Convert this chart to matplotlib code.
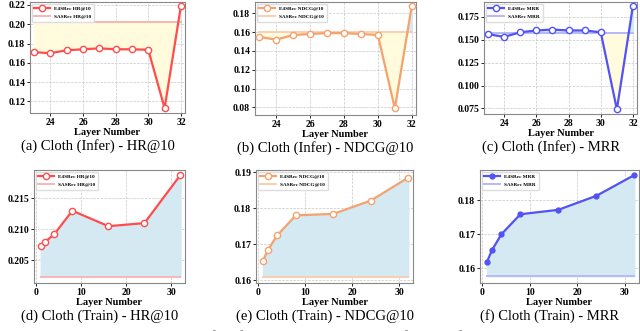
import numpy as np
import matplotlib
matplotlib.use("Agg")
import matplotlib.pyplot as plt

plt.rcParams['font.family'] = ['Liberation Serif', 'DejaVu Serif']

# inference: layer index where the output is taken
infer_layers = [23, 24, 25, 26, 27, 28, 29, 30, 31, 32]
infer_hr = [0.171, 0.170, 0.173, 0.174, 0.175, 0.174, 0.174, 0.1735, 0.113, 0.219]
infer_ndcg = [0.155, 0.152, 0.157, 0.158, 0.159, 0.159, 0.158, 0.157, 0.079, 0.188]
infer_mrr = [0.156, 0.153, 0.158, 0.160, 0.161, 0.160, 0.160, 0.158, 0.074, 0.187]
sas_infer = {'HR@10': 0.2025, 'NDCG@10': 0.160, 'MRR': 0.157}

# training: number of layers
train_layers = [1, 2, 4, 8, 16, 24, 32]
train_hr = [0.2073, 0.2080, 0.2092, 0.2130, 0.2105, 0.2110, 0.2188]
train_ndcg = [0.1654, 0.1683, 0.1724, 0.1780, 0.1784, 0.1821, 0.1885]
train_mrr = [0.1620, 0.1653, 0.1700, 0.1759, 0.1772, 0.1813, 0.1874]
sas_train = {'HR@10': 0.20235, 'NDCG@10': 0.1609, 'MRR': 0.1577}

colors = {'HR@10': '#ff4d4d', 'NDCG@10': '#f4a26e', 'MRR': '#5252f5'}
sas_colors = {'HR@10': '#f7b7b7', 'NDCG@10': '#f8cfb2', 'MRR': '#b8b8f8'}

W, H = 640, 331
fig = plt.figure(figsize=(W / 100, H / 100), dpi=100)


def add_ax(l, r, t, b):
    return fig.add_axes([l / W, 1 - b / H, (r - l) / W, (b - t) / H])


panels = [
    # rect, x, y, metric, ylim, yticks, fmt, xticks, xlim, caption, filled marker
    ((30, 185, 2, 113), infer_layers, infer_hr, 'HR@10', (0.108, 0.223),
     [0.12, 0.14, 0.16, 0.18, 0.20, 0.22], '{:.2f}', [24, 26, 28, 30, 32],
     (22.75, 32.25), '(a) Cloth (Infer) - HR@10', False),
    ((255, 416, 2, 115), infer_layers, infer_ndcg, 'NDCG@10', (0.072, 0.192),
     [0.08, 0.10, 0.12, 0.14, 0.16, 0.18], '{:.2f}', [24, 26, 28, 30, 32],
     (22.75, 32.25), '(b) Cloth (Infer) - NDCG@10', False),
    ((484, 637, 2, 114), infer_layers, infer_mrr, 'MRR', (0.069, 0.191),
     [0.075, 0.100, 0.125, 0.150, 0.175], '{:.3f}', [24, 26, 28, 30, 32],
     (22.75, 32.25), '(c) Cloth (Infer) - MRR', False),
    ((34, 185, 170, 283), train_layers, train_hr, 'HR@10', (0.2013, 0.2196),
     [0.205, 0.210, 0.215], '{:.3f}', [0, 10, 20, 30],
     (-0.5, 33.0), '(d) Cloth (Train) - HR@10', False),
    ((256, 413, 170, 283), train_layers, train_ndcg, 'NDCG@10', (0.1592, 0.1906),
     [0.16, 0.17, 0.18, 0.19], '{:.2f}', [0, 10, 20, 30],
     (-0.5, 33.0), '(e) Cloth (Train) - NDCG@10', False),
    ((480, 639, 170, 283), train_layers, train_mrr, 'MRR', (0.1557, 0.1889),
     [0.16, 0.17, 0.18], '{:.2f}', [0, 10, 20, 30],
     (-0.5, 33.0), '(f) Cloth (Train) - MRR', True),
]

for rect, xs, ys, metric, ylim, yticks, fmt, xticks, xlim, caption, filled in panels:
    ax = add_ax(*rect)
    sas = sas_infer[metric] if 'Infer' in caption else sas_train[metric]
    xs = np.array(xs, dtype=float)
    ys = np.array(ys)
    base = np.full_like(ys, sas)
    # below the baseline -> pale yellow, above -> pale blue
    ax.fill_between(xs, ys, base, where=ys <= base, interpolate=True,
                    color='#fffbdc', zorder=1)
    ax.fill_between(xs, ys, base, where=ys >= base, interpolate=True,
                    color='#d5e9f3', zorder=1)
    c = colors[metric]
    if filled:
        ax.plot(xs, ys, '-o', color=c, lw=1.6, ms=3.5, mfc=c, mec=c,
                label='E4SRec ' + metric, zorder=3)
    else:
        ax.plot(xs, ys, '-o', color=c, lw=1.6, ms=4.5, mfc='white', mec=c,
                mew=1.0, label='E4SRec ' + metric, zorder=3)
    ax.plot([xs[0], xs[-1]], [sas, sas], color=sas_colors[metric], lw=1.4,
            label='SASRec ' + metric, zorder=2)
    ax.set_xlim(*xlim)
    ax.set_ylim(*ylim)
    ax.set_xticks(xticks)
    ax.set_yticks(yticks)
    ax.set_yticklabels([fmt.format(v) for v in yticks])
    ax.grid(True, ls='--', lw=0.5, color='#c8c8c8')
    ax.set_axisbelow(True)
    for s in ax.spines.values():
        s.set_color('#888888')
        s.set_linewidth(0.8)
    ax.tick_params(length=2, width=0.6, pad=1.5, labelsize=7)
    for lab in ax.get_xticklabels() + ax.get_yticklabels():
        lab.set_fontweight('bold')
    ax.set_xlabel('Layer Number', fontsize=7.5, fontweight='bold', labelpad=0.5)
    leg = ax.legend(loc='upper left', fontsize=3.8, frameon=True, framealpha=1,
                    edgecolor='#dddddd', borderpad=0.5, handlelength=3,
                    labelspacing=0.7, borderaxespad=0.3, fancybox=True)
    for t in leg.get_texts():
        t.set_fontweight('bold')
    l, r, t, b = rect
    fig.text(((l + r) / 2 - 10) / W, 1 - (b + 33) / H, caption, fontsize=10.5,
             ha='center', va='center')

# figure caption below, mostly cut off by the image edge as in the source
fig.text(2 / W, 1 - 330.5 / H,
         'Figure 3: We present the variation of performance with the number of layers of the backbone model in both',
         fontsize=10.5, ha='left', va='top', color='#444444')

fig.savefig('out.png', dpi=100)
